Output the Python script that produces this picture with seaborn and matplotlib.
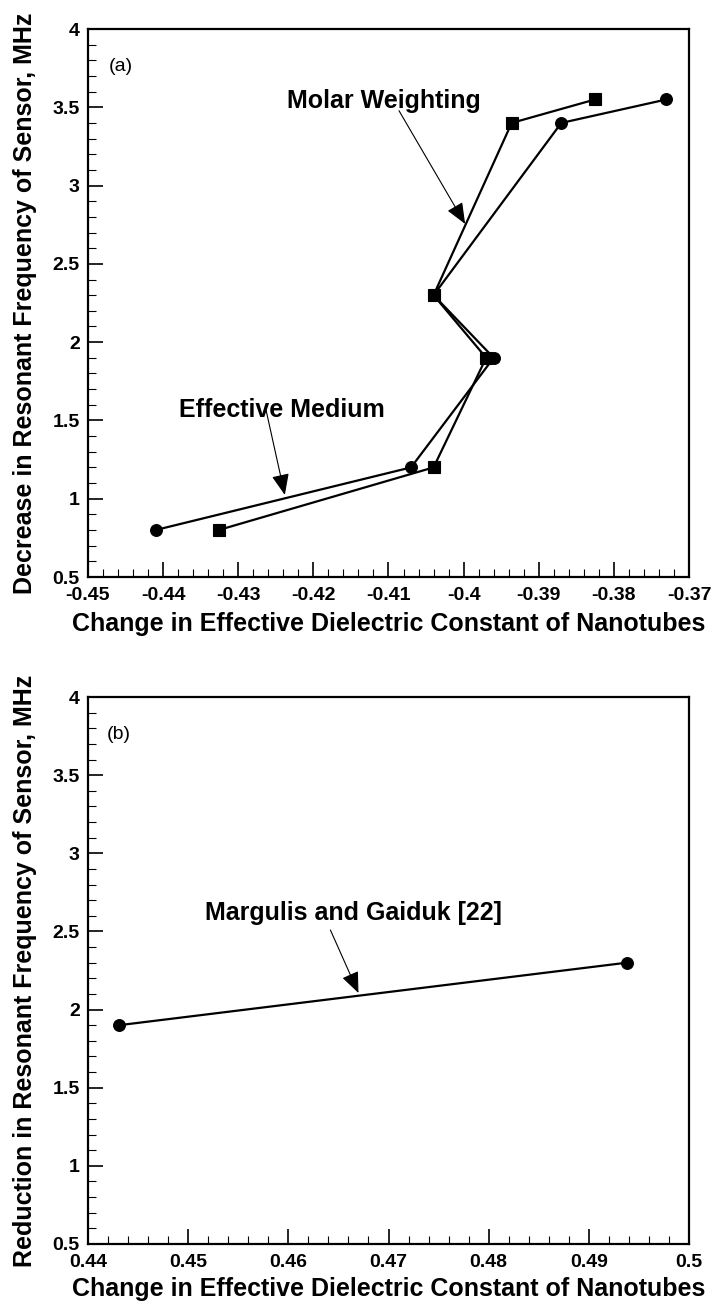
"""
Resonant frequency shift vs. change in effective dielectric constant
of nanotubes: (a) effective medium / molar weighting, (b) Margulis and Gaiduk.
"""

import numpy as np
import pandas as pd
import matplotlib.pyplot as plt
import seaborn as sns
from matplotlib.ticker import MultipleLocator, FuncFormatter


# ---------------------------------------------------------------------------
# Data
# ---------------------------------------------------------------------------

# panel (a)
eff_medium_x = [-0.441, -0.407, -0.396, -0.404, -0.387, -0.373]
eff_medium_y = [0.8, 1.2, 1.9, 2.3, 3.4, 3.55]
molar_x = [-0.4326, -0.404, -0.397, -0.404, -0.3936, -0.3825]
molar_y = [0.8, 1.2, 1.9, 2.3, 3.4, 3.55]

# panel (b)
margulis_x = [0.4431, 0.4938]
margulis_y = [1.9, 2.3]

series_names = ["Effective Medium", "Molar Weighting"]
panel_b_name = "Margulis and Gaiduk [22]"

xlabel = "Change in Effective Dielectric Constant of Nanotubes"
ylabel_a = "Decrease in Resonant Frequency of Sensor, MHz"
ylabel_b = "Reduction in Resonant Frequency of Sensor, MHz"


# ---------------------------------------------------------------------------
# Style
# ---------------------------------------------------------------------------

sns.set_theme(style="ticks", rc={
    "axes.edgecolor": "black",
    "axes.linewidth": 1.5,
    "text.color": "black",
    "xtick.color": "black",
    "ytick.color": "black",
    "axes.labelcolor": "black",
    "font.weight": "bold",
})
plt.rcParams["font.family"] = ["Liberation Sans", "DejaVu Sans"]

W, H = 716, 1303
fig = plt.figure(figsize=(W / 100, H / 100), dpi=100)


def px_axes(left, top, right, bottom):
    """Axes placed from pixel edges of the figure."""
    return fig.add_axes([left / W, 1 - bottom / H, (right - left) / W, (bottom - top) / H])


def fmt(v, _pos):
    return f"{round(v, 4):g}"


def style_axes(ax, xlim, ylim):
    ax.set_xlim(*xlim)
    ax.set_ylim(*ylim)
    ax.xaxis.set_major_locator(MultipleLocator(0.01))
    ax.xaxis.set_minor_locator(MultipleLocator(0.002))
    ax.yaxis.set_major_locator(MultipleLocator(0.5))
    ax.yaxis.set_minor_locator(MultipleLocator(0.1))
    ax.xaxis.set_major_formatter(FuncFormatter(fmt))
    ax.yaxis.set_major_formatter(FuncFormatter(fmt))
    ax.tick_params(which="both", direction="in", top=False, right=False)
    ax.tick_params(which="major", length=10.5, width=1.2, labelsize=14)
    ax.tick_params(axis="x", which="major", pad=7)
    ax.tick_params(axis="y", which="major", pad=6)
    ax.tick_params(which="minor", length=6, width=0.8)
    for sp in ax.spines.values():
        sp.set_visible(True)
        sp.set_linewidth(1.6)
    ax.set_xlabel("")
    ax.set_ylabel("")


def arrow(ax, start, tip):
    ax.annotate("", xy=tip, xytext=start,
                arrowprops=dict(arrowstyle="-|>,head_length=0.65,head_width=0.27",
                                mutation_scale=20, lw=0.8, color="black",
                                shrinkA=0, shrinkB=0))


# ---------------------------------------------------------------------------
# Panel (a)
# ---------------------------------------------------------------------------

df_a = pd.DataFrame({
    "x": eff_medium_x + molar_x,
    "y": eff_medium_y + molar_y,
    "model": [series_names[0]] * len(eff_medium_x) + [series_names[1]] * len(molar_x),
})

ax1 = px_axes(88, 29, 689, 577)
sns.lineplot(data=df_a, x="x", y="y", hue="model", style="model",
             palette={series_names[0]: "black", series_names[1]: "black"},
             markers={series_names[0]: "o", series_names[1]: "s"},
             dashes=False, sort=False, estimator=None, legend=False,
             linewidth=1.6, markersize=8.5, markeredgecolor="black",
             markeredgewidth=0.8, ax=ax1)
style_axes(ax1, (-0.45, -0.37), (0.5, 4))

ax1.text(-0.4473, 3.734, "(a)", fontsize=14, fontweight="normal", ha="left", va="baseline")
ax1.text(-0.4106, 3.494, series_names[1], fontsize=18, ha="center", va="baseline")
ax1.text(-0.4242, 1.524, series_names[0], fontsize=18, ha="center", va="baseline")
arrow(ax1, (-0.4086, 3.478), (-0.3998, 2.755))
arrow(ax1, (-0.4264, 1.588), (-0.4238, 1.024))


# ---------------------------------------------------------------------------
# Panel (b)
# ---------------------------------------------------------------------------

df_b = pd.DataFrame({"x": margulis_x, "y": margulis_y})

ax2 = px_axes(88, 697, 689, 1244)
sns.lineplot(data=df_b, x="x", y="y", color="black", marker="o",
             sort=False, estimator=None, linewidth=1.6, markersize=8.5,
             markeredgecolor="black", markeredgewidth=0.8, ax=ax2)
style_axes(ax2, (0.44, 0.5), (0.5, 4))

ax2.text(0.4419, 3.729, "(b)", fontsize=14, fontweight="normal", ha="left", va="baseline")
ax2.text(0.4665, 2.573, panel_b_name, fontsize=18, ha="center", va="baseline")
arrow(ax2, (0.4642, 2.509), (0.4670, 2.106))


# ---------------------------------------------------------------------------
# Axis titles
# ---------------------------------------------------------------------------

fig.text(388.5 / W, 1 - 631 / H, xlabel, fontsize=18, ha="center", va="baseline")
fig.text(388.5 / W, 1 - 1296 / H, xlabel, fontsize=18, ha="center", va="baseline")
fig.text(25 / W, 1 - 303.5 / H, ylabel_a, fontsize=18, rotation=90, ha="center", va="center")
fig.text(25 / W, 1 - 970.5 / H, ylabel_b, fontsize=18, rotation=90, ha="center", va="center")

fig.savefig("out.png", dpi=100, facecolor="white")
